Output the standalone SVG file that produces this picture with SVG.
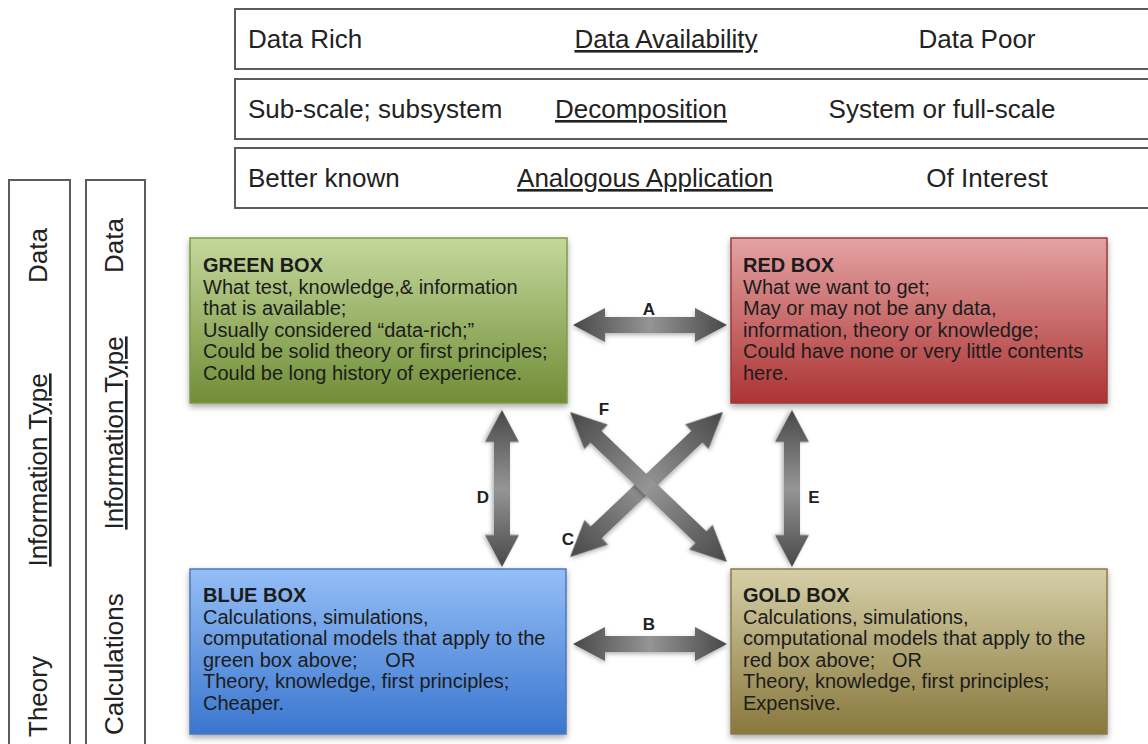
<svg xmlns="http://www.w3.org/2000/svg" width="1148" height="744" viewBox="0 0 1148 744">
<defs>
<style>
.frame{fill:#fff;stroke:#5c5c5c;stroke-width:2}
.big{font-family:"Liberation Sans",Arial,sans-serif;font-size:26px;fill:#222}
.u{text-decoration:underline}
.bt{font-family:"Liberation Sans",Arial,sans-serif;font-size:20px;fill:#1c1c1c}
.hd{font-weight:bold}
.lbl{font-family:"Liberation Sans",Arial,sans-serif;font-size:17px;font-weight:bold;fill:#222;text-anchor:middle}
.arrow{fill:url(#ga);filter:url(#ash)}
</style>
<linearGradient id="gg" x1="0" y1="0" x2="0" y2="1"><stop offset="0" stop-color="#c4d89c"/><stop offset="1" stop-color="#708d36"/></linearGradient>
<linearGradient id="gr" x1="0" y1="0" x2="0" y2="1"><stop offset="0" stop-color="#e4a2a2"/><stop offset="1" stop-color="#ac3434"/></linearGradient>
<linearGradient id="gb" x1="0" y1="0" x2="0" y2="1"><stop offset="0" stop-color="#94bef6"/><stop offset="1" stop-color="#3a76cf"/></linearGradient>
<linearGradient id="go" x1="0" y1="0" x2="0" y2="1"><stop offset="0" stop-color="#d6cfa8"/><stop offset="1" stop-color="#88783c"/></linearGradient>
<linearGradient id="ga" x1="0" y1="0" x2="1" y2="0"><stop offset="0" stop-color="#484848"/><stop offset="0.5" stop-color="#959595"/><stop offset="1" stop-color="#484848"/></linearGradient>
<filter id="sh" x="-5%" y="-5%" width="110%" height="120%"><feDropShadow dx="0" dy="3" stdDeviation="3" flood-color="#000" flood-opacity="0.35"/></filter>
<filter id="ash" x="-10%" y="-30%" width="120%" height="160%"><feDropShadow dx="0" dy="2" stdDeviation="2" flood-color="#000" flood-opacity="0.3"/></filter>
</defs>

<g id="top-bars">
<rect class="frame" x="235" y="9" width="930" height="60"/>
<text class="big" x="248" y="48">Data Rich</text>
<text class="big u" x="666" y="48" text-anchor="middle">Data Availability</text>
<text class="big" x="977" y="48" text-anchor="middle">Data Poor</text>
<rect class="frame" x="235" y="79" width="930" height="60"/>
<text class="big" x="248" y="118">Sub-scale; subsystem</text>
<text class="big u" x="641" y="118" text-anchor="middle">Decomposition</text>
<text class="big" x="942" y="118" text-anchor="middle">System or full-scale</text>
<rect class="frame" x="235" y="148" width="930" height="60"/>
<text class="big" x="248" y="187">Better known</text>
<text class="big u" x="645" y="187" text-anchor="middle">Analogous Application</text>
<text class="big" x="987" y="187" text-anchor="middle">Of Interest</text>
</g>

<g id="side-bars">
<rect class="frame" x="9" y="180" width="61" height="580"/>
<text class="big" transform="translate(47,228) rotate(-90)" text-anchor="end">Data</text>
<text class="big u" transform="translate(47,470) rotate(-90)" text-anchor="middle">Information Type</text>
<text class="big" transform="translate(47,737) rotate(-90)">Theory</text>
<rect class="frame" x="86" y="180" width="59" height="580"/>
<text class="big" transform="translate(123,218) rotate(-90)" text-anchor="end">Data</text>
<text class="big u" transform="translate(123,433) rotate(-90)" text-anchor="middle">Information Type</text>
<text class="big" transform="translate(123,735) rotate(-90)">Calculations</text>
</g>

<g id="green-box">
<rect x="190" y="238" width="377" height="165" fill="url(#gg)" stroke="#7f9a48" stroke-width="1.5" filter="url(#sh)"/>
<text class="bt" x="203" xml:space="preserve"><tspan class="hd" y="272">GREEN BOX</tspan><tspan x="203" y="293.5">What test, knowledge,&amp; information</tspan><tspan x="203" y="315">that is available;</tspan><tspan x="203" y="336.5">Usually considered “data-rich;”</tspan><tspan x="203" y="358">Could be solid theory or first principles;</tspan><tspan x="203" y="379.5">Could be long history of experience.</tspan></text>
</g>

<g id="red-box">
<rect x="731" y="238" width="376" height="165" fill="url(#gr)" stroke="#9a3a3a" stroke-width="1.5" filter="url(#sh)"/>
<text class="bt" x="743" xml:space="preserve"><tspan class="hd" y="272">RED BOX</tspan><tspan x="743" y="293.5">What we want to get;</tspan><tspan x="743" y="315">May or may not be any data,</tspan><tspan x="743" y="336.5">information, theory or knowledge;</tspan><tspan x="743" y="358">Could have none or very little contents</tspan><tspan x="743" y="379.5">here.</tspan></text>
</g>

<g id="blue-box">
<rect x="190" y="569" width="376" height="165" fill="url(#gb)" stroke="#4a78b8" stroke-width="1.5" filter="url(#sh)"/>
<text class="bt" x="203" xml:space="preserve"><tspan class="hd" y="602">BLUE BOX</tspan><tspan x="203" y="623.5">Calculations, simulations,</tspan><tspan x="203" y="645">computational models that apply to the</tspan><tspan x="203" y="666.5">green box above;     OR</tspan><tspan x="203" y="688">Theory, knowledge, first principles;</tspan><tspan x="203" y="709.5">Cheaper.</tspan></text>
</g>

<g id="gold-box">
<rect x="731" y="569" width="376" height="165" fill="url(#go)" stroke="#8a7b48" stroke-width="1.5" filter="url(#sh)"/>
<text class="bt" x="743" xml:space="preserve"><tspan class="hd" y="602">GOLD BOX</tspan><tspan x="743" y="623.5">Calculations, simulations,</tspan><tspan x="743" y="645">computational models that apply to the</tspan><tspan x="743" y="666.5">red box above;   OR</tspan><tspan x="743" y="688">Theory, knowledge, first principles;</tspan><tspan x="743" y="709.5">Expensive.</tspan></text>
</g>

<g id="connectors">
<polygon class="arrow" transform="translate(650,325)" points="-77,0 -45,-17 -45,-8 45,-8 45,-17 77,0 45,17 45,8 -45,8 -45,17"/>
<polygon class="arrow" transform="translate(650,644)" points="-77,0 -45,-17 -45,-8 45,-8 45,-17 77,0 45,17 45,8 -45,8 -45,17"/>
<polygon class="arrow" transform="translate(502,488.5) rotate(90)" points="-78.5,0 -46.5,-17 -46.5,-8 46.5,-8 46.5,-17 78.5,0 46.5,17 46.5,8 -46.5,8 -46.5,17"/>
<polygon class="arrow" transform="translate(792,488.5) rotate(90)" points="-78.5,0 -46.5,-17 -46.5,-8 46.5,-8 46.5,-17 78.5,0 46.5,17 46.5,8 -46.5,8 -46.5,17"/>
<polygon class="arrow" transform="translate(646.5,484.5) rotate(-43.5)" points="-105.4,0 -69.4,-17 -69.4,-8 69.4,-8 69.4,-17 105.4,0 69.4,17 69.4,8 -69.4,8 -69.4,17"/>
<polygon class="arrow" transform="translate(648.5,487) rotate(43.7)" points="-108.5,0 -72.5,-17 -72.5,-8 72.5,-8 72.5,-17 108.5,0 72.5,17 72.5,8 -72.5,8 -72.5,17"/>
<text class="lbl" x="649" y="315">A</text>
<text class="lbl" x="649" y="630">B</text>
<text class="lbl" x="568" y="545">C</text>
<text class="lbl" x="483" y="503">D</text>
<text class="lbl" x="814" y="503">E</text>
<text class="lbl" x="604" y="415">F</text>
</g>
</svg>
